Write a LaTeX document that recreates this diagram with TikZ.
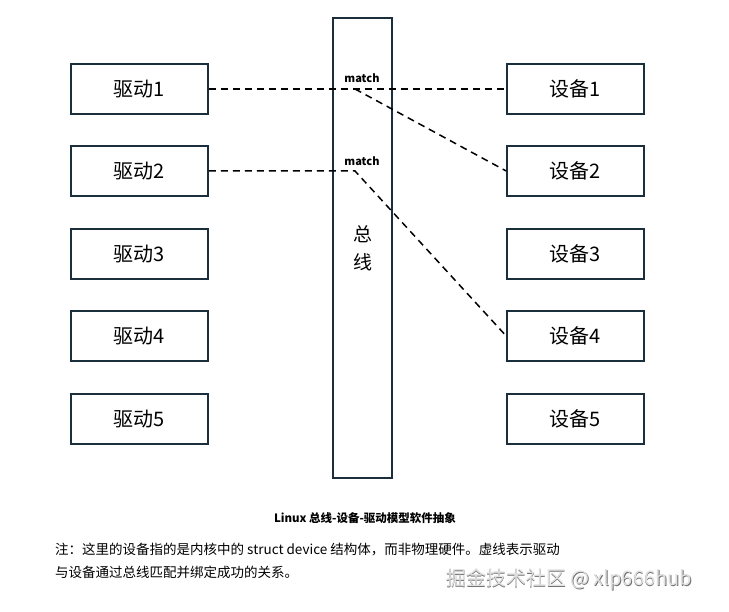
\documentclass[tikz,border=0pt]{standalone}
\usepackage{fontspec}
\setmainfont{Noto Sans CJK SC}
\begin{document}
\begin{tikzpicture}[x=1pt,y=-1pt,
  box/.style={draw=boxc,line width=1.6pt,minimum width=137pt,minimum height=50pt,font=\fontsize{20}{22}\selectfont,inner sep=0},
  dl/.style={line width=1.5pt,dash pattern=on 7pt off 5pt},
  ml/.style={font=\bfseries\fontsize{11}{12}\selectfont}]
\definecolor{boxc}{HTML}{1B2E3C}
\useasboundingbox[fill=white] (0,0) rectangle (729,612);
\node[box,minimum width=59pt,minimum height=460pt,font=\fontsize{19}{28}\selectfont,align=center] (bus) at (362.5,248) {总\\线};
\foreach \i/\y in {1/89,2/171,3/254,4/336,5/419}{
  \node[box] (d\i) at (139.5,\y) {驱动\i};
  \node[box] (e\i) at (575.5,\y) {设备\i};
}
\coordinate (m1) at (355,89);
\coordinate (m2) at (355,171);
\draw[dl] (d1.east) -- (m1) -- (e1.west);
\draw[dl] (m1) -- (e2.west);
\draw[dl] (d2.east) -- (m2) -- (e4.west);
\node[ml] (t1) at (362,78) {match};
\node[ml] (t2) at (362,161) {match};
\node[font=\bfseries\fontsize{11.5}{13}\selectfont] (cap) at (365,518) {Linux 总线-设备-驱动模型软件抽象};
\node[anchor=north west,align=left,font=\fontsize{13.5}{22.5}\selectfont,inner sep=0] (note) at (55,543) {注：这里的设备指的是内核中的 struct device 结构体，而非物理硬件。虚线表示驱动\\与设备通过总线匹配并绑定成功的关系。};
\node[font=\fontsize{20}{22}\selectfont,text=black!55] (wm0) at (569.8,579.8) {掘金技术社区 @ xlp666hub};
\node[font=\fontsize{20}{22}\selectfont,text=black!12] (wm) at (569,579) {掘金技术社区 @ xlp666hub};
\end{tikzpicture}
\end{document}
